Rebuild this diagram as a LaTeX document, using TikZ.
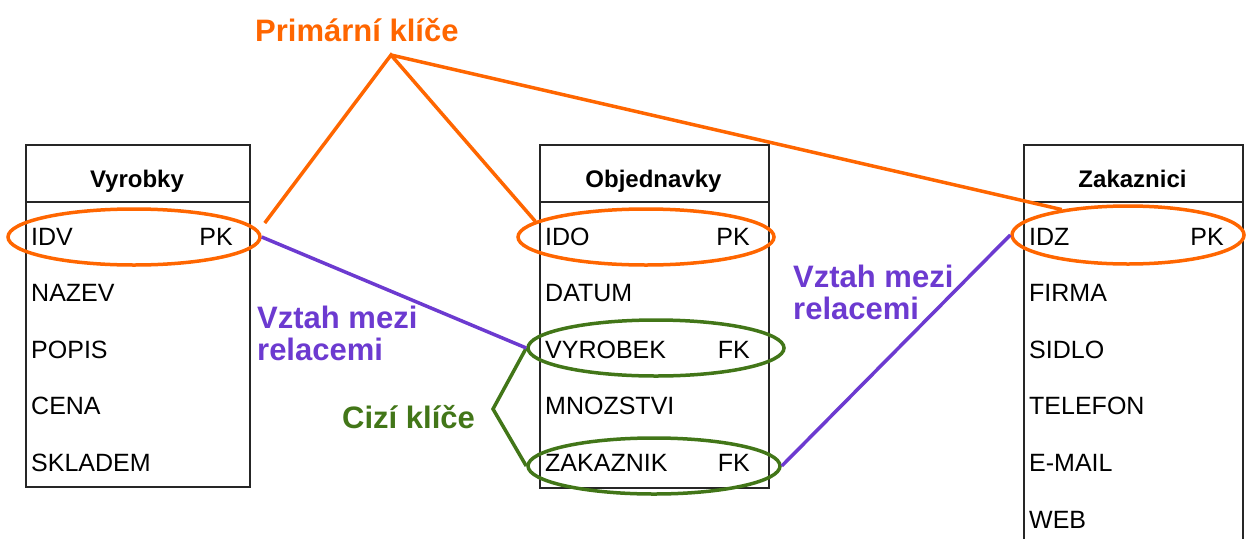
\documentclass[tikz,border=0pt]{standalone}
\usepackage{fontspec}
\setmainfont{Liberation Sans}
\usetikzlibrary{shapes.geometric}

\definecolor{keyorange}{RGB}{255,102,0}
\definecolor{relpurple}{RGB}{108,58,208}
\definecolor{fkgreen}{RGB}{66,118,24}

\begin{document}
\begin{tikzpicture}[x=1pt, y=-1pt,
    tablebox/.style={draw=black!85, line width=1.5pt, anchor=north west, minimum width=#1, inner sep=0pt},
    field/.style={anchor=base west, inner sep=0pt, font=\fontsize{25}{30}\selectfont},
    keytag/.style={anchor=base east, inner sep=0pt, font=\fontsize{25}{30}\selectfont},
    title/.style={anchor=base, inner sep=0pt, font=\bfseries\fontsize{24}{28}\selectfont},
    pkring/.style={ellipse, draw=keyorange, line width=3.5pt, inner sep=0pt},
    fkring/.style={ellipse, draw=fkgreen, line width=3.5pt, inner sep=0pt},
    pkline/.style={draw=keyorange, line width=3.5pt},
    fkline/.style={draw=fkgreen, line width=3.5pt},
    relline/.style={draw=relpurple, line width=3.5pt},
    note/.style={inner sep=0pt, font=\bfseries\fontsize{31}{32}\selectfont}]

    \useasboundingbox (0,0) rectangle (1246,538);
    \clip (0,0) rectangle (1246,538);

    % Tables
    \node[tablebox=224pt, minimum height=342pt] (vyrobky) at (25,144) {};
    \node[tablebox=229pt, minimum height=343pt] (objednavky) at (539,144) {};
    \node[tablebox=219pt, minimum height=420pt] (zakaznici) at (1023,144) {};
    \foreach \t in {vyrobky, objednavky, zakaznici}
        \draw[line width=1.5pt, black!85] ([yshift=-58pt]\t.north west) -- ([yshift=-58pt]\t.north east);

    % Titles
    \node[title] (vyrobky title) at (137,187) {Vyrobky};
    \node[title] (objednavky title) at (653.5,187) {Objednavky};
    \node[title] (zakaznici title) at (1132.5,187) {Zakaznici};

    % Fields
    \foreach \n/\txt [count=\i from 0] in {idv/IDV, nazev/NAZEV, popis/POPIS, cena/CENA, skladem/SKLADEM}
        \node[field] (\n) at (31,{245+56.6*\i}) {\txt};
    \foreach \n/\txt [count=\i from 0] in {ido/IDO, datum/DATUM, vyrobek/VYROBEK, mnozstvi/MNOZSTVI, zakaznik/ZAKAZNIK}
        \node[field] (\n) at (545,{245+56.6*\i}) {\txt};
    \foreach \n/\txt [count=\i from 0] in {idz/IDZ, firma/FIRMA, sidlo/SIDLO, telefon/TELEFON, email/E-MAIL, web/WEB}
        \node[field] (\n) at (1029,{245+56.6*\i}) {\txt};

    \node[keytag] (idv pk) at (233,245) {PK};
    \node[keytag] (ido pk) at (750,245) {PK};
    \node[keytag] (vyrobek fk) at (750,358) {FK};
    \node[keytag] (zakaznik fk) at (750,471) {FK};
    \node[keytag] (idz pk) at (1224,245) {PK};

    % Key rings
    \node[pkring, minimum width=252pt, minimum height=56pt] (idv key) at (134,237) {};
    \node[pkring, minimum width=256pt, minimum height=56pt] (ido key) at (646,237) {};
    \node[pkring, minimum width=232pt, minimum height=58pt] (idz key) at (1128,235) {};
    \node[fkring, minimum width=256pt, minimum height=56pt] (vyrobek key) at (656,348) {};
    \node[fkring, minimum width=252pt, minimum height=56pt] (zakaznik key) at (654,466) {};

    % Labels
    \node[note, text=keyorange, anchor=base west] (pk label) at (255,41) {Primární klíče};
    \node[note, text=relpurple, anchor=north west, align=left] (rel left) at (257,306) {Vztah mezi\\relacemi};
    \node[note, text=relpurple, anchor=north west, align=left] (rel right) at (793,265) {Vztah mezi\\relacemi};
    \node[note, text=fkgreen, anchor=base west] (fk label) at (342,428) {Cizí klíče};

    % Primary key lines
    \coordinate (pk apex) at (391,55);
    \draw[pkline] ([shift={(3,-14)}]idv key.east) -- (pk apex) -- (ido key.172);
    \draw[pkline] (pk apex) -- (idz key.159);

    % Foreign key lines
    \coordinate (fk apex) at (493,409);
    \draw[fkline] (vyrobek key.west) -- (fk apex) -- (zakaznik key.west);

    % Relations
    \draw[relline] (idv key.east) -- (vyrobek key.west);
    \draw[relline] (zakaznik key.east) -- (idz key.west);
\end{tikzpicture}
\end{document}
